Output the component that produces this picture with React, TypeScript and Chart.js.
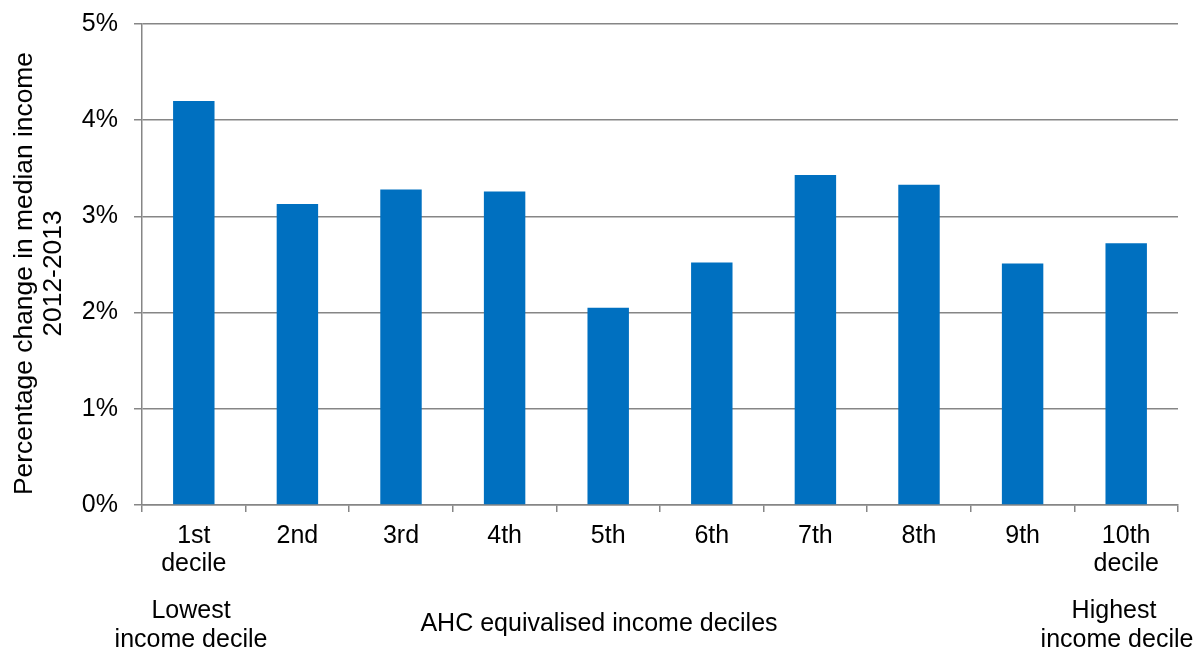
import React, { useEffect, useRef } from "react";
import { Chart, registerables } from "chart.js";

Chart.register(...registerables);

const categories: (string | string[])[] = [
  ["1st", "decile"], "2nd", "3rd", "4th", "5th", "6th", "7th", "8th", "9th", ["10th", "decile"],
];
const values: number[] = [4.2, 3.13, 3.28, 3.26, 2.05, 2.52, 3.43, 3.33, 2.51, 2.72];
const yTitle: string[] = ["Percentage change in median income", "2012-2013"];
const xTitle = "AHC equivalised income deciles";
const lowLabel: string[] = ["Lowest", "income decile"];
const highLabel: string[] = ["Highest", "income decile"];

const FONT = "'Liberation Sans', Arial, sans-serif";
const GRID = "#868686";
const TEXT = "#000000";

const extraLabels = {
  id: "extraLabels",
  afterDraw(chart: any) {
    const ctx = chart.ctx;
    const H = chart.height;
    ctx.save();
    ctx.fillStyle = TEXT;
    ctx.font = `25px ${FONT}`;
    ctx.textAlign = "center";
    ctx.textBaseline = "alphabetic";
    ctx.fillText(lowLabel[0], 191, H - 32);
    ctx.fillText(lowLabel[1], 191, H - 3);
    ctx.fillText(xTitle, chart.width / 2, H - 19);
    ctx.fillText(highLabel[0], 1114, H - 32);
    ctx.fillText(highLabel[1], 1117, H - 3);
    ctx.restore();

    ctx.save();
    ctx.fillStyle = TEXT;
    ctx.font = `26.4px ${FONT}`;
    ctx.textAlign = "center";
    ctx.textBaseline = "alphabetic";
    ctx.translate(32, 273.5);
    ctx.rotate(-Math.PI / 2);
    ctx.fillText(yTitle[0], 0, 0);
    ctx.fillText(yTitle[1], 0, 29);
    ctx.restore();
  },
};

export default function App() {
  const ref = useRef<HTMLCanvasElement>(null);
  useEffect(() => {
    if (!ref.current) return;
    const chart = new Chart(ref.current, {
      type: "bar",
      data: {
        labels: categories,
        datasets: [
          {
            data: values,
            backgroundColor: "#0070C0",
            borderWidth: 0,
            barPercentage: 0.4,
            categoryPercentage: 1,
          },
        ],
      },
      options: {
        animation: false,
        responsive: true,
        maintainAspectRatio: false,
        layout: { padding: { top: 24, right: 20, left: 0, bottom: 0 } },
        plugins: { legend: { display: false }, tooltip: { enabled: false } },
        scales: {
          x: {
            afterFit: (s: any) => { s.height = 145; s.paddingLeft = 0; s.paddingRight = 0; },
            grid: {
              offset: true,
              drawOnChartArea: false,
              tickLength: 7,
              color: GRID,
              lineWidth: 1.5,
            },
            border: { color: GRID, width: 1.5 },
            ticks: {
              color: TEXT,
              font: { family: FONT, size: 25, lineHeight: 1.12 },
              padding: 10,
              maxRotation: 0,
              autoSkip: false,
            },
          },
          y: {
            min: 0,
            max: 5,
            afterFit: (s: any) => { s.width = 142; s.paddingTop = 0; s.paddingBottom = 0; },
            grid: { color: GRID, lineWidth: 1.5, tickLength: 8 },
            border: { color: GRID, width: 1.5 },
            ticks: {
              stepSize: 1,
              color: TEXT,
              font: { family: FONT, size: 25 },
              padding: 16,
              callback: (v: any) => `${v}%`,
            },
          },
        },
      },
      plugins: [extraLabels],
    });
    return () => chart.destroy();
  }, []);
  return (
    <div style={{ position: "fixed", left: 0, top: 0, width: 1198, height: 650, background: "#fff" }}>
      <canvas ref={ref} />
    </div>
  );
}
